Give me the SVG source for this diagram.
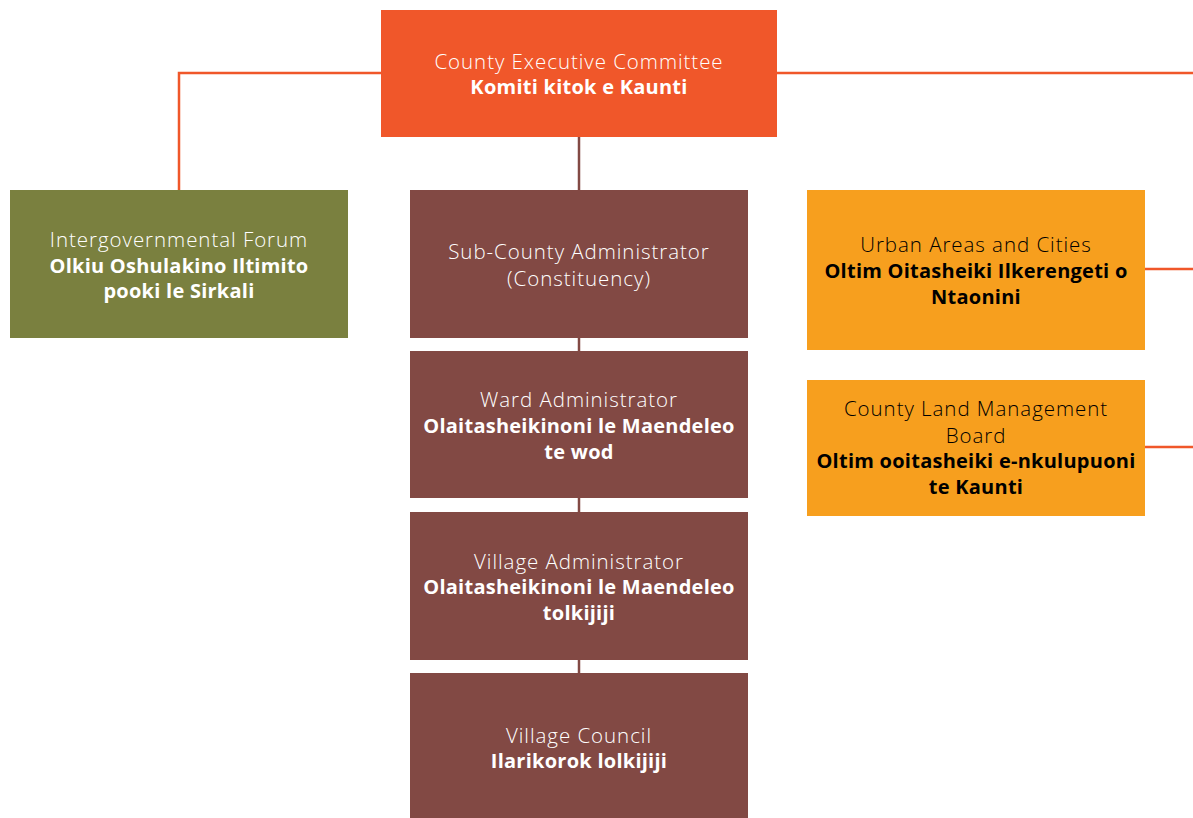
<svg xmlns="http://www.w3.org/2000/svg" width="1193" height="818" viewBox="0 0 1193 818">
<style>
.t{font-family:"Open Sans","Liberation Sans",sans-serif;text-anchor:middle}
.l{font-weight:300;font-size:20.5px;letter-spacing:0.95px}
.b{font-weight:700;font-size:20px;letter-spacing:0.25px}
.w{fill:#ffffff}
.k{fill:#000000}
.red{fill:#F0572A}
.grn{fill:#7A803F}
.brn{fill:#824944}
.org{fill:#F79F1E}
</style>
<rect width="1193" height="818" fill="#ffffff"/>
<g id="connectors" fill="none" stroke-width="2.5">
<path d="M381 73 H179 V190" stroke="#F0572A"/>
<path d="M777 73 H1193" stroke="#F0572A"/>
<path d="M1145 269 H1193" stroke="#F0572A"/>
<path d="M1145 447 H1193" stroke="#F0572A"/>
<path d="M579 137 V190 M579 338 V351 M579 498 V512 M579 660 V673" stroke="#824944"/>
</g>
<g id="n-cec">
<rect class="red" x="381" y="10" width="396" height="127"/>
<text class="t l w" x="579" y="69">County Executive Committee</text>
<text class="t b w" x="579" y="94">Komiti kitok e Kaunti</text>
</g>
<g id="n-forum">
<rect class="grn" x="10" y="190" width="338" height="148"/>
<text class="t l w" x="179" y="247">Intergovernmental Forum</text>
<text class="t b w" x="179" y="273">Olkiu Oshulakino Iltimito</text>
<text class="t b w" x="179" y="298">pooki le Sirkali</text>
</g>
<g id="n-subcounty">
<rect class="brn" x="410" y="190" width="338" height="148"/>
<text class="t l w" x="579" y="259">Sub-County Administrator</text>
<text class="t l w" x="579" y="286">(Constituency)</text>
</g>
<g id="n-ward">
<rect class="brn" x="410" y="351" width="338" height="147"/>
<text class="t l w" x="579" y="407">Ward Administrator</text>
<text class="t b w" x="579" y="433">Olaitasheikinoni le Maendeleo</text>
<text class="t b w" x="579" y="459">te wod</text>
</g>
<g id="n-village-admin">
<rect class="brn" x="410" y="512" width="338" height="148"/>
<text class="t l w" x="579" y="569">Village Administrator</text>
<text class="t b w" x="579" y="594">Olaitasheikinoni le Maendeleo</text>
<text class="t b w" x="579" y="620">tolkijiji</text>
</g>
<g id="n-village-council">
<rect class="brn" x="410" y="673" width="338" height="145"/>
<text class="t l w" x="579" y="743">Village Council</text>
<text class="t b w" x="579" y="768">Ilarikorok lolkijiji</text>
</g>
<g id="n-urban">
<rect class="org" x="807" y="190" width="338" height="160"/>
<text class="t l k" x="976" y="252">Urban Areas and Cities</text>
<text class="t b k" x="976" y="278">Oltim Oitasheiki Ilkerengeti o</text>
<text class="t b k" x="976" y="304">Ntaonini</text>
</g>
<g id="n-land">
<rect class="org" x="807" y="380" width="338" height="136"/>
<text class="t l k" x="976" y="416">County Land Management</text>
<text class="t l k" x="976" y="443">Board</text>
<text class="t b k" x="976" y="468">Oltim ooitasheiki e-nkulupuoni</text>
<text class="t b k" x="976" y="494">te Kaunti</text>
</g>
</svg>
